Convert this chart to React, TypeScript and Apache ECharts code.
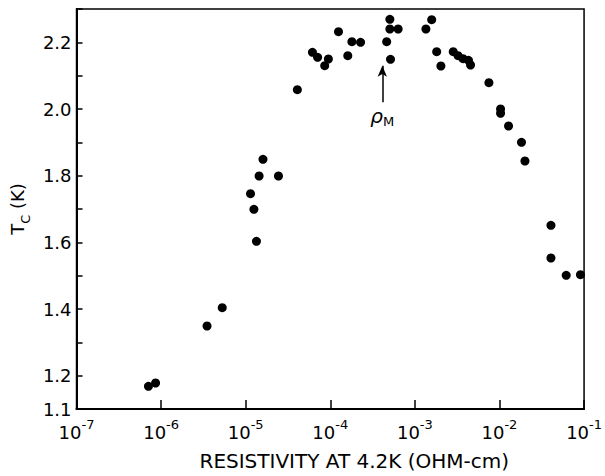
import React, { useEffect, useRef } from "react";
import * as echarts from "echarts";

const resistivity = [
  7.08e-7, 8.6e-7, 3.49e-6, 5.28e-6, 1.34e-5, 1.14e-5, 1.25e-5, 1.44e-5, 1.6e-5, 2.44e-5,
  4.08e-5, 6.15e-5, 7.08e-5, 8.59e-5, 9.49e-5, 1.25e-4, 1.61e-4, 1.8e-4, 2.28e-4, 4.64e-4,
  5.06e-4, 5.06e-4, 6.34e-4, 5.15e-4, 1.35e-3, 1.58e-3, 1.81e-3, 2.03e-3, 2.84e-3, 3.24e-3,
  3.71e-3, 4.3e-3, 4.55e-3, 7.5e-3, 1.03e-2, 1.03e-2, 1.28e-2, 1.82e-2, 2.0e-2, 4.06e-2,
  4.06e-2, 6.15e-2, 9.06e-2,
];
const tc = [
  1.168, 1.178, 1.349, 1.404, 1.603, 1.746, 1.699, 1.799, 1.849, 1.799,
  2.058, 2.17, 2.155, 2.13, 2.15, 2.232, 2.16, 2.202, 2.2, 2.202,
  2.269, 2.24, 2.24, 2.149, 2.24, 2.268, 2.172, 2.129, 2.172, 2.16,
  2.151, 2.146, 2.132, 2.079, 2.0, 1.987, 1.949, 1.9, 1.844, 1.651,
  1.553, 1.501, 1.503,
];
const yLabels = ["1.1", "1.2", "1.4", "1.6", "1.8", "2.0", "2.2"];
const arrowX = 4.12e-4;
const arrowFrom = 2.02;
const arrowTo = 2.13;
const xTitle = "RESISTIVITY AT 4.2K (OHM-cm)";

const FONT = "DejaVu Sans";

export default function App() {
  const ref = useRef<HTMLDivElement>(null);
  useEffect(() => {
    if (!ref.current) return;
    const chart = echarts.init(ref.current, null, { renderer: "svg" });
    const data = resistivity.map((r, i) => [r, tc[i]]);
    chart.setOption({
      animation: false,
      backgroundColor: "#fff",
      grid: {
        left: 69,
        right: 16,
        top: 9,
        bottom: 65,
        show: true,
        borderColor: "#000",
        borderWidth: 1.5,
      },
      xAxis: {
        type: "log",
        logBase: 10,
        min: 1e-7,
        max: 1e-1,
        name: xTitle,
        nameLocation: "middle",
        nameGap: 42,
        nameTextStyle: {
          fontFamily: FONT,
          fontSize: 20,
          color: "#000",
          padding: [0, 0, 0, 48],
        },
        axisLine: { lineStyle: { color: "#000", width: 2 } },
        axisTick: { inside: true, length: 9, lineStyle: { color: "#000", width: 1.5 } },
        minorTick: { show: false },
        splitLine: { show: false },
        axisLabel: {
          margin: 9,
          formatter: (v: number) => `{b|10}{s|${Math.round(Math.log10(v))}}`,
          rich: {
            b: { fontFamily: FONT, fontSize: 18, color: "#000", verticalAlign: "bottom", lineHeight: 23 },
            s: { fontFamily: FONT, fontSize: 13, color: "#000", verticalAlign: "top", lineHeight: 23 },
          },
        },
      },
      yAxis: {
        type: "value",
        min: 1.1,
        max: 2.3,
        interval: 0.1,
        name: "{a|T}{c|C}{a| (K)}",
        nameLocation: "middle",
        nameGap: 42,
        nameRotate: 90,
        nameTextStyle: {
          rich: {
            a: { fontFamily: FONT, fontSize: 18, color: "#000", verticalAlign: "top", lineHeight: 24 },
            c: { fontFamily: FONT, fontSize: 13, color: "#000", verticalAlign: "bottom", lineHeight: 24 },
          },
        },
        axisLine: { show: true, lineStyle: { color: "#000", width: 2 } },
        axisTick: { inside: true, length: 6, lineStyle: { color: "#000", width: 1.5 } },
        splitLine: { show: false },
        axisLabel: {
          margin: 5,
          fontFamily: FONT,
          fontSize: 18,
          color: "#000",
          formatter: (v: number) => {
            const s = v.toFixed(1);
            return yLabels.includes(s) ? s : "";
          },
        },
      },
      series: [
        {
          type: "scatter",
          data,
          symbol: "circle",
          symbolSize: 9,
          itemStyle: { color: "#000", opacity: 1 },
          markLine: {
            silent: true,
            symbol: ["none", "arrow"],
            symbolSize: [7, 11],
            lineStyle: { color: "#000", width: 1.5, type: "solid" },
            label: {
              show: true,
              position: "start",
              distance: 4,
              formatter: "{r|ρ}{m|M}",
              rich: {
                r: { fontFamily: FONT, fontSize: 20, fontStyle: "italic", color: "#000", verticalAlign: "top", lineHeight: 22 },
                m: { fontFamily: FONT, fontSize: 13, color: "#000", verticalAlign: "bottom", lineHeight: 22 },
              },
            },
            data: [
              [
                { coord: [arrowX, arrowFrom] },
                { coord: [arrowX, arrowTo] },
              ],
            ],
          },
        },
      ],
    });
    return () => chart.dispose();
  }, []);
  return (
    <div
      ref={ref}
      style={{ position: "fixed", left: 0, top: 0, width: 605, height: 476, background: "#fff" }}
    />
  );
}
